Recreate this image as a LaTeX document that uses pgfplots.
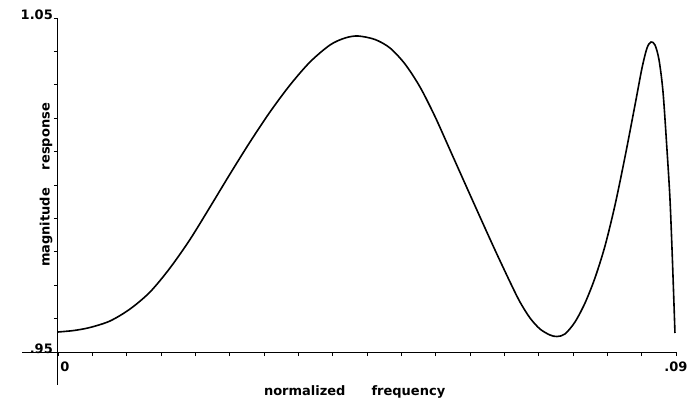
\documentclass[border=0pt]{standalone}
\usepackage{fontspec}
\setmainfont{DejaVu Sans}
\usepackage{pgfplots}
\pgfplotsset{compat=1.18}

\pgfplotstableread{
f       mag
0.00000 0.95599
0.00233 0.95644
0.00466 0.95734
0.00757 0.95928
0.01049 0.96287
0.01340 0.96796
0.01631 0.97515
0.01922 0.98368
0.02214 0.99341
0.02505 1.00329
0.02796 1.01287
0.03087 1.02186
0.03379 1.02994
0.03670 1.03683
0.03961 1.04192
0.04180 1.04401
0.04369 1.04461
0.04617 1.04356
0.04835 1.04102
0.05053 1.03623
0.05272 1.02934
0.05490 1.02051
0.05709 1.01048
0.05927 1.00045
0.06146 0.99042
0.06364 0.98054
0.06583 0.97096
0.06728 0.96497
0.06874 0.96018
0.07019 0.95689
0.07165 0.95509
0.07267 0.95464
0.07383 0.95539
0.07529 0.95898
0.07675 0.96467
0.07820 0.97216
0.07966 0.98174
0.08112 0.99401
0.08257 1.00838
0.08403 1.02395
0.08505 1.03503
0.08578 1.04102
0.08636 1.04281
0.08694 1.04192
0.08753 1.03743
0.08811 1.02784
0.08869 1.01048
0.08913 0.99551
0.08949 0.97695
0.08985 0.95569
}\magdata

\begin{document}
\begin{tikzpicture}
\begin{axis}[
    scale only axis,
    width=618pt, height=334pt,
    xmin=0, xmax=0.09,
    ymin=0.95, ymax=1.05,
    axis lines=left,
    axis line style={-, line width=1pt},
    clip=false,
    tick align=outside,
    major tick length=4pt,
    tick style={line width=0.8pt, black},
    scaled x ticks=false,
    scaled y ticks=false,
    xtick={0,0.005,0.01,0.015,0.02,0.025,0.03,0.035,0.04,0.045,0.05,0.055,0.06,0.065,0.07,0.075,0.08,0.085,0.09},
    xticklabels={\hspace{14pt}0,,,,,,,,,,,,,,,,,,.09},
    ytick={0.95,0.96,0.97,0.98,0.99,1.00,1.01,1.02,1.03,1.04,1.05},
    yticklabels={.95,,,,,,,,,,1.05},
    yticklabel style={anchor=south east, inner sep=1pt, yshift=-3pt},
    xticklabel style={yshift=-2pt},
    tick label style={font=\fontsize{13}{15}\selectfont\bfseries},
    label style={font=\fontsize{13}{15}\selectfont\bfseries},
    xlabel={normalized\hspace{26pt}frequency},
    ylabel={magnitude\hspace{18pt}response},
    xlabel style={at={(axis description cs:0.48,0)}, anchor=north, yshift=-30pt},
    ylabel style={at={(axis description cs:0,0.5)}, yshift=2pt},
]
\addplot[black, line width=1.6pt, smooth] table[x=f, y=mag] {\magdata};
\draw[line width=1pt] (axis cs:0,0.95) -- (axis cs:0,0.9402);
\draw[line width=1pt] (axis cs:0,0.95) -- (axis cs:-0.0052,0.95);
\coordinate (o) at (rel axis cs:0,0);
\end{axis}
\pgfresetboundingbox
\path[use as bounding box] ([shift={(-58pt,-66pt)}]o) rectangle ++(694pt,418pt);
\end{tikzpicture}
\end{document}
